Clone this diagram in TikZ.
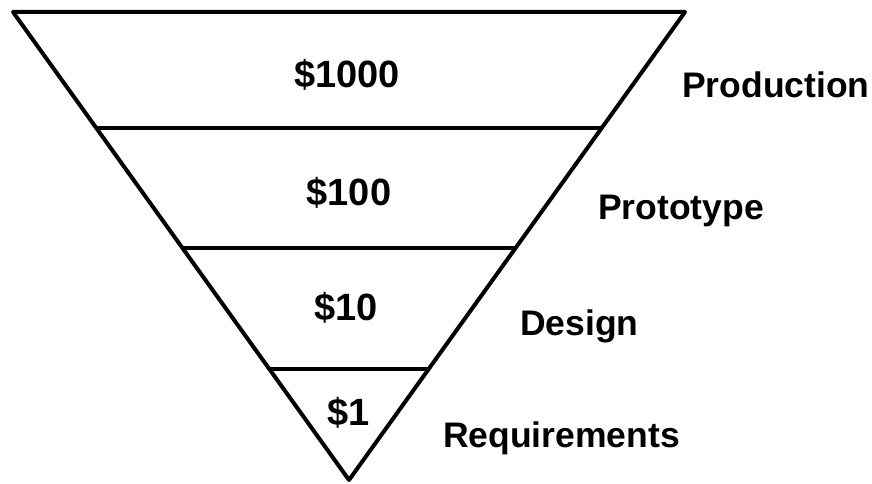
\documentclass[tikz,border=0pt]{standalone}
\usepackage{fontspec}
\setmainfont{Liberation Sans}
\usetikzlibrary{calc}

\begin{document}
\begin{tikzpicture}[x=1pt, y=-1pt, line join=round,
    cost/.style={font=\fontsize{38}{38}\selectfont\bfseries, anchor=base, inner sep=0pt},
    phase/.style={font=\fontsize{35.5}{35.5}\selectfont\bfseries, anchor=base west, inner sep=0pt}]
    % --- Frame ---
    \useasboundingbox (0,0) rectangle (872,484);

    % --- Definitions ---
    % Corners of the upside-down triangle
    \coordinate (TL) at (13,12);
    \coordinate (TR) at (685,12);
    \coordinate (V) at (349,480);

    % --- Drawing ---
    % 1. The triangle
    \draw[line width=4pt] (TL) -- (TR) -- (V) -- cycle;

    % 2. The dividing lines between the levels
    \foreach \t in {0.248, 0.504, 0.763}
        \draw[line width=4pt] ($(TL)!\t!(V)$) -- ($(TR)!\t!(V)$);

    % --- Labels ---
    % Costs inside the triangle
    \node[cost] (c1000) at (347,88) {\$1000};
    \node[cost] (c100) at (349,205) {\$100};
    \node[cost] (c10) at (346,320) {\$10};
    \node[cost] (c1) at (349,425) {\$1};

    % Phases to the right
    \node[phase] (production) at (682,98) {Production};
    \node[phase] (prototype) at (598,219) {Prototype};
    \node[phase] (design) at (520,335) {Design};
    \node[phase] (requirements) at (443,447) {Requirements};

\end{tikzpicture}
\end{document}
